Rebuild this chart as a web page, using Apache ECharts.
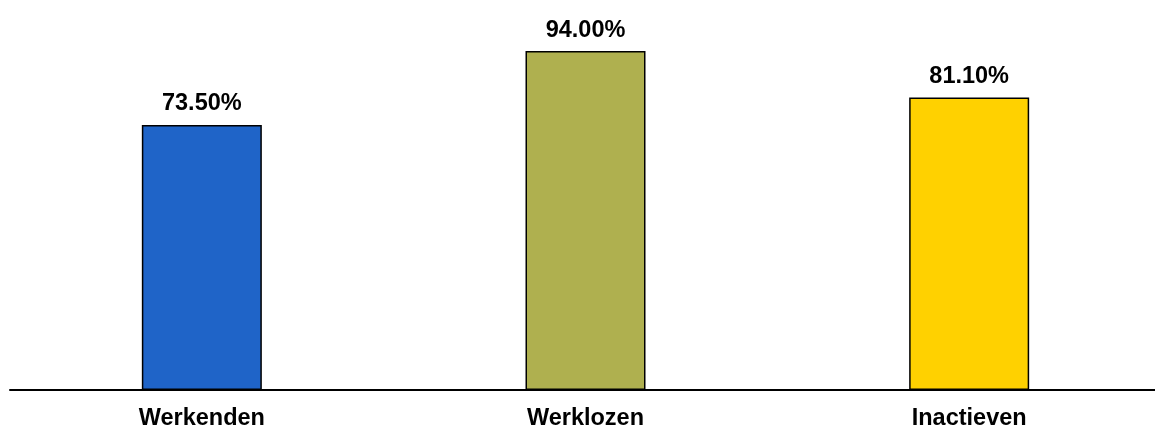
<!DOCTYPE html>
<html>
<head>
<meta charset="utf-8">
<script src="https://cdn.jsdelivr.net/npm/echarts@6/dist/echarts.min.js"></script>
<style>
  html, body { margin: 0; padding: 0; background: #fff; overflow: hidden; }
  #chart { width: 1155px; height: 428px; }
</style>
</head>
<body>
<div id="chart"></div>
<script>
const categories = ['Werkenden', 'Werklozen', 'Inactieven'];
const values = [73.5, 94.0, 81.1];
const barColors = ['#1F64C8', '#AFB04F', '#FFD100'];

const chart = echarts.init(document.getElementById('chart'), null, { renderer: 'canvas' });
chart.setOption({
  animation: false,
  grid: { left: 10, width: 1151, top: 29.4, bottom: 38, outerBoundsMode: 'none', containLabel: false },
  xAxis: {
    type: 'category',
    data: categories,
    axisTick: { show: false },
    axisLine: { lineStyle: { color: '#000', width: 2 } },
    axisLabel: {
      color: '#000',
      fontFamily: 'Liberation Sans, Arial, sans-serif',
      fontWeight: 'bold',
      fontSize: 23.5,
      margin: 17
    }
  },
  yAxis: {
    type: 'value',
    min: 0,
    max: 100,
    show: false,
    splitLine: { show: false }
  },
  series: [{
    type: 'bar',
    barWidth: 120,
    data: values.map((v, i) => ({
      value: v,
      itemStyle: { color: barColors[i] }
    })),
    itemStyle: { borderColor: '#000', borderWidth: 1.5 },
    label: {
      show: true,
      position: 'top',
      distance: 9,
      color: '#000',
      fontFamily: 'Liberation Sans, Arial, sans-serif',
      fontWeight: 'bold',
      fontSize: 23.5,
      formatter: p => p.value.toFixed(2) + '%'
    }
  }]
});
</script>
</body>
</html>
